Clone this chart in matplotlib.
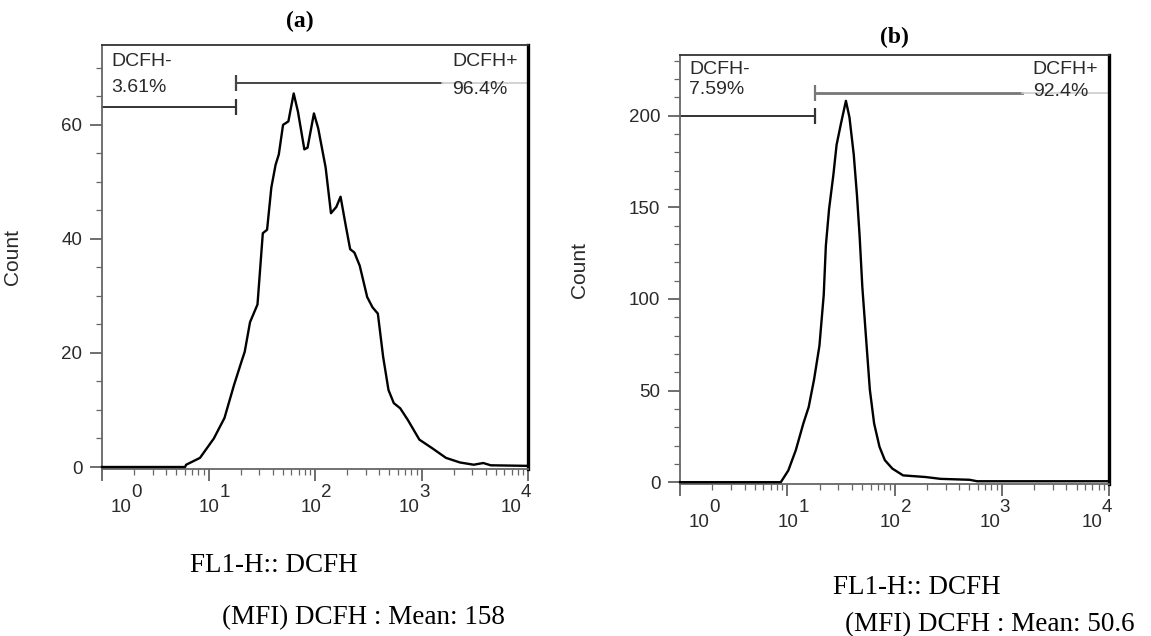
import numpy as np
import matplotlib
matplotlib.use("Agg")
import matplotlib.pyplot as plt
from matplotlib.ticker import MultipleLocator, LogLocator, NullFormatter

# ---- data (log10 of FL1-H, count) ----
a_logx = [0.0, 0.78, 0.79, 0.92, 1.05, 1.15, 1.24, 1.31, 1.34, 1.39, 1.46, 1.51, 1.55,
          1.59, 1.63, 1.66, 1.70, 1.75, 1.80, 1.84, 1.90, 1.93, 1.99, 2.03, 2.10, 2.15,
          2.20, 2.24, 2.29, 2.33, 2.37, 2.42, 2.49, 2.54, 2.59, 2.64, 2.69, 2.74, 2.80,
          2.87, 2.98, 3.10, 3.23, 3.36, 3.49, 3.58, 3.65, 4.0]
a_count = [0.0, 0.0, 0.4, 1.6, 5.0, 8.6, 14.4, 18.5, 20.2, 25.4, 28.5, 41.0, 41.6,
           49.0, 53.0, 54.8, 60.0, 60.6, 65.5, 62.3, 55.7, 56.0, 62.0, 59.4, 52.5, 44.5,
           45.6, 47.4, 42.2, 38.2, 37.6, 35.3, 29.8, 28.0, 26.9, 19.3, 13.5, 11.2, 10.3,
           8.3, 4.8, 3.3, 1.6, 0.8, 0.4, 0.7, 0.3, 0.2]

b_logx = [0.0, 0.94, 1.01, 1.08, 1.15, 1.20, 1.25, 1.30, 1.34, 1.36, 1.39, 1.43, 1.46,
          1.50, 1.547, 1.58, 1.62, 1.65, 1.675, 1.70, 1.74, 1.77, 1.81, 1.86, 1.91,
          1.98, 2.08, 2.29, 2.43, 2.70, 2.77, 4.0]
b_count = [0.0, 0.0, 6.4, 17.5, 32.0, 41.0, 56.0, 74.4, 102.0, 129.0, 149.0, 167.6, 184.0,
           195.4, 208.0, 199.0, 178.7, 156.5, 134.0, 106.5, 74.4, 50.5, 32.0, 19.3, 12.0,
           7.4, 3.7, 2.8, 1.8, 1.3, 0.5, 0.5]

panels = ['(a)', '(b)']
neg_pct = ['3.61%', '7.59%']
pos_pct = ['96.4%', '92.4%']
means = ['158', '50.6']
gate_x = [18, 18]          # DCFH-/DCFH+ split
gate_neg_y = [63.2, 200]
gate_pos_y = [67.4, 212.5]
ymax = [74.0, 233.0]
ymajor = [20, 50]
yminor = [5, 10]

plt.rcParams['font.family'] = ['Liberation Sans', 'DejaVu Sans']
SERIF = ['Liberation Serif', 'DejaVu Serif']

fig = plt.figure(figsize=(11.51, 6.36), dpi=100)
W, H = 1151.0, 636.0

# axes boxes in pixels: left, right, top, bottom(zero line)
boxes = [(102, 528, 45, 469), (680, 1109, 55, 484)]
curves = [(a_logx, a_count), (b_logx, b_count)]
ybot = [-0.35, -1.0]

# x offsets (px) of the "10" text from each decade tick, FlowJo-like spreading
lab_dx = [19, 1, -4, -12, -17]

for i in range(2):
    l, r, t, b = boxes[i]
    ax = fig.add_axes([l / W, 1 - b / H, (r - l) / W, (b - t) / H])
    lx, cnt = curves[i]
    ax.plot(10 ** np.array(lx), cnt, color='black', lw=1.7, zorder=3, clip_on=False)
    ax.set_xscale('log')
    ax.set_xlim(1, 1e4)
    ax.set_ylim(ybot[i], ymax[i])

    ax.yaxis.set_major_locator(MultipleLocator(ymajor[i]))
    ax.yaxis.set_minor_locator(MultipleLocator(yminor[i]))
    ax.xaxis.set_major_locator(LogLocator(base=10, numticks=10))
    ax.xaxis.set_minor_locator(LogLocator(base=10, subs=np.arange(2, 10), numticks=20))
    ax.xaxis.set_major_formatter(NullFormatter())
    ax.xaxis.set_minor_formatter(NullFormatter())

    ax.tick_params(which='major', direction='out', length=8.6, width=1.2,
                   color='#555555', labelsize=13.5, labelcolor='#2a2a2a', pad=5.5)
    ax.tick_params(which='minor', direction='out', length=4.3, width=0.9, color='#666666')

    for s in ['left', 'bottom']:
        ax.spines[s].set_color('#666666')
        ax.spines[s].set_linewidth(1.3)
    ax.spines['top'].set_color('#333333')
    ax.spines['top'].set_linewidth(1.3)
    ax.spines['right'].set_color('black')
    ax.spines['right'].set_linewidth(2.4)

    # decade labels 10^n drawn as "10" + raised exponent
    for k in range(5):
        dx = lab_dx[k] * 0.72
        ax.annotate('10', xy=(10 ** k, 0), xycoords=('data', 'axes fraction'),
                    xytext=(dx, -27.4), textcoords='offset points',
                    ha='center', va='center', fontsize=13.5, color='#2a2a2a')
        ax.annotate(str(k), xy=(10 ** k, 0), xycoords=('data', 'axes fraction'),
                    xytext=(dx + 11.0, -16.6), textcoords='offset points',
                    ha='center', va='center', fontsize=13.5, color='#2a2a2a')

    ax.set_ylabel('Count', fontsize=15, color='#2a2a2a')
    if i == 0:
        ax.yaxis.set_label_coords(-0.187, 0.5)
    else:
        ax.yaxis.set_label_coords(-0.213, 0.5)

    # gates
    ax.plot([1, gate_x[i]], [gate_neg_y[i]] * 2, color='#333333', lw=1.4,
            marker='|', markersize=11, markeredgewidth=1.6, markevery=[1], clip_on=False)
    ax.plot([gate_x[i], 1560], [gate_pos_y[i]] * 2, color='#444444' if i == 0 else '#777777',
            lw=1.4 if i == 0 else 2.0, marker='|', markersize=11, markeredgewidth=1.6,
            markevery=[0], clip_on=False)
    ax.plot([1560, 1e4], [gate_pos_y[i]] * 2, color='#cccccc', lw=1.2)

    ptop = [17, 15][i]
    pbot = [43, 35][i]
    hgt = float(b - t)
    ax.text(0.022, 1 - ptop / hgt, 'DCFH-', transform=ax.transAxes, ha='left',
            va='center', fontsize=14, color='#2a2a2a')
    ax.text(0.022, 1 - pbot / hgt, neg_pct[i], transform=ax.transAxes, ha='left',
            va='center', fontsize=14, color='#2a2a2a')
    ax.text(0.822, 1 - ptop / hgt, 'DCFH+', transform=ax.transAxes, ha='left',
            va='center', fontsize=14, color='#2a2a2a')
    ax.text(0.822, 1 - (pbot + 2) / hgt, pos_pct[i], transform=ax.transAxes, ha='left',
            va='center', fontsize=14, color='#2a2a2a')

# titles and captions
fig.text(300 / W, 1 - 21 / H, panels[0], ha='center', va='center', fontsize=17,
         fontweight='bold', family=SERIF)
fig.text(894 / W, 1 - 37 / H, panels[1], ha='center', va='center', fontsize=17,
         fontweight='bold', family=SERIF)
fig.text(274 / W, 1 - 566 / H, 'FL1-H:: DCFH', ha='center', va='center', fontsize=19.5,
         family=SERIF)
fig.text(917 / W, 1 - 588 / H, 'FL1-H:: DCFH', ha='center', va='center', fontsize=19.5,
         family=SERIF)
fig.text(363 / W, 1 - 618 / H, '(MFI) DCFH : Mean: ' + means[0], ha='center', va='center',
         fontsize=19.5, family=SERIF)
fig.text(990 / W, 1 - 625 / H, '(MFI) DCFH : Mean: ' + means[1], ha='center', va='center',
         fontsize=19.5, family=SERIF)

fig.savefig('out.png', dpi=100)
